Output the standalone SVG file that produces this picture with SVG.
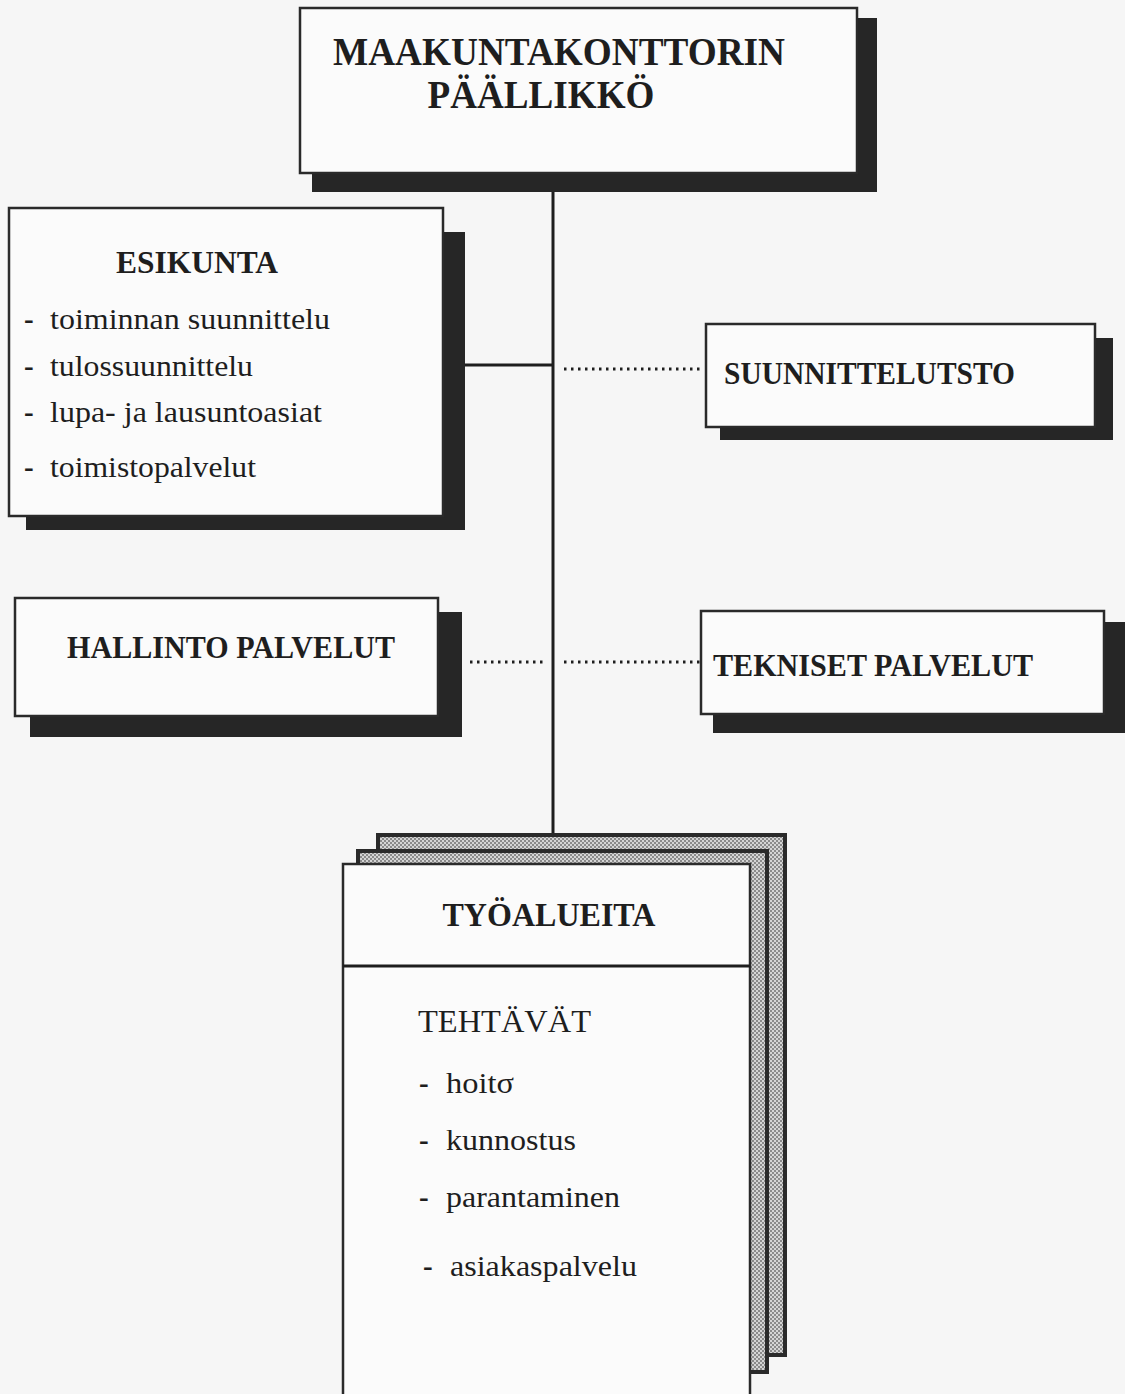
<svg xmlns="http://www.w3.org/2000/svg" width="1125" height="1394" viewBox="0 0 1125 1394">
<defs>
<pattern id="stip" width="4" height="4" patternUnits="userSpaceOnUse">
<rect width="4" height="4" fill="#d4d4d4"/>
<rect x="0" y="0" width="2" height="2" fill="#8a8a8a"/>
<rect x="2" y="2" width="2" height="2" fill="#8a8a8a"/>
</pattern>
</defs>
<style>
.bg{fill:#f6f6f6}
.box{fill:#fbfbfb;stroke:#2a2a2a;stroke-width:2.5}
.shadow{fill:#262626}
.t{font-family:"Liberation Serif","Times New Roman",serif;fill:#1e1e1e}
.b{font-weight:bold}
.line{stroke:#1e1e1e;stroke-width:3;fill:none}
.dot{stroke:#1e1e1e;stroke-width:3;stroke-dasharray:2.5 4.5;fill:none}
.sheet{fill:url(#stip);stroke:#2a2a2a;stroke-width:4}
</style>
<rect class="bg" x="0" y="0" width="1125" height="1394"/>

<g id="connectors">
<line class="line" x1="553" y1="190" x2="553" y2="835"/>
<line class="line" x1="465" y1="365" x2="553" y2="365"/>
<line class="dot" x1="564" y1="369" x2="702" y2="369"/>
<line class="dot" x1="470" y1="662" x2="546" y2="662"/>
<line class="dot" x1="564" y1="662" x2="702" y2="662"/>
</g>

<g id="paallikko">
<rect class="shadow" x="312" y="18" width="565" height="174"/>
<rect class="box" x="300" y="8" width="557" height="165"/>
<text class="t b" x="559" y="65" font-size="40" text-anchor="middle" textLength="452" lengthAdjust="spacingAndGlyphs">MAAKUNTAKONTTORIN</text>
<text class="t b" x="541" y="108" font-size="40" text-anchor="middle" textLength="227" lengthAdjust="spacingAndGlyphs">PÄÄLLIKKÖ</text>
</g>

<g id="esikunta">
<rect class="shadow" x="26" y="232" width="439" height="298"/>
<rect class="box" x="9" y="208" width="434" height="308"/>
<text class="t b" x="197" y="273" font-size="31" text-anchor="middle" textLength="162" lengthAdjust="spacingAndGlyphs">ESIKUNTA</text>
<text class="t b" x="24" y="329" font-size="29">-</text>
<text class="t" x="50" y="329" font-size="29" textLength="280" lengthAdjust="spacingAndGlyphs">toiminnan suunnittelu</text>
<text class="t b" x="24" y="376" font-size="29">-</text>
<text class="t" x="50" y="376" font-size="29" textLength="203" lengthAdjust="spacingAndGlyphs">tulossuunnittelu</text>
<text class="t b" x="24" y="422" font-size="29">-</text>
<text class="t" x="50" y="422" font-size="29" textLength="272" lengthAdjust="spacingAndGlyphs">lupa- ja lausuntoasiat</text>
<text class="t b" x="24" y="477" font-size="29">-</text>
<text class="t" x="50" y="477" font-size="29" textLength="206" lengthAdjust="spacingAndGlyphs">toimistopalvelut</text>
</g>

<g id="suunnittelutsto">
<rect class="shadow" x="720" y="338" width="393" height="102"/>
<rect class="box" x="706" y="324" width="389" height="103"/>
<text class="t b" x="724" y="384" font-size="31" textLength="291" lengthAdjust="spacingAndGlyphs">SUUNNITTELUTSTO</text>
</g>

<g id="hallinto">
<rect class="shadow" x="30" y="612" width="432" height="125"/>
<rect class="box" x="15" y="598" width="423" height="118"/>
<text class="t b" x="67" y="658" font-size="31" textLength="328" lengthAdjust="spacingAndGlyphs">HALLINTO PALVELUT</text>
</g>

<g id="tekniset">
<rect class="shadow" x="713" y="622" width="420" height="111"/>
<rect class="box" x="701" y="611" width="403" height="103"/>
<text class="t b" x="713" y="676" font-size="31" textLength="320" lengthAdjust="spacingAndGlyphs">TEKNISET PALVELUT</text>
</g>

<g id="tyoalueita">
<rect class="sheet" x="378" y="835" width="407" height="520"/>
<rect class="sheet" x="358" y="851" width="409" height="521"/>
<rect class="box" x="343" y="864" width="407" height="540"/>
<line class="line" x1="343" y1="966" x2="750" y2="966"/>
<text class="t b" x="549" y="926" font-size="33" text-anchor="middle" textLength="213" lengthAdjust="spacingAndGlyphs">TYÖALUEITA</text>
<text class="t" x="418" y="1032" font-size="31" textLength="173" lengthAdjust="spacingAndGlyphs">TEHTÄVÄT</text>
<text class="t b" x="419" y="1093" font-size="29">-</text>
<text class="t" x="446" y="1093" font-size="29" textLength="68" lengthAdjust="spacingAndGlyphs">hoitσ</text>
<text class="t b" x="419" y="1150" font-size="29">-</text>
<text class="t" x="446" y="1150" font-size="29" textLength="130" lengthAdjust="spacingAndGlyphs">kunnostus</text>
<text class="t b" x="419" y="1207" font-size="29">-</text>
<text class="t" x="446" y="1207" font-size="29" textLength="174" lengthAdjust="spacingAndGlyphs">parantaminen</text>
<text class="t b" x="423" y="1276" font-size="29">-</text>
<text class="t" x="450" y="1276" font-size="29" textLength="187" lengthAdjust="spacingAndGlyphs">asiakaspalvelu</text>
</g>
</svg>
